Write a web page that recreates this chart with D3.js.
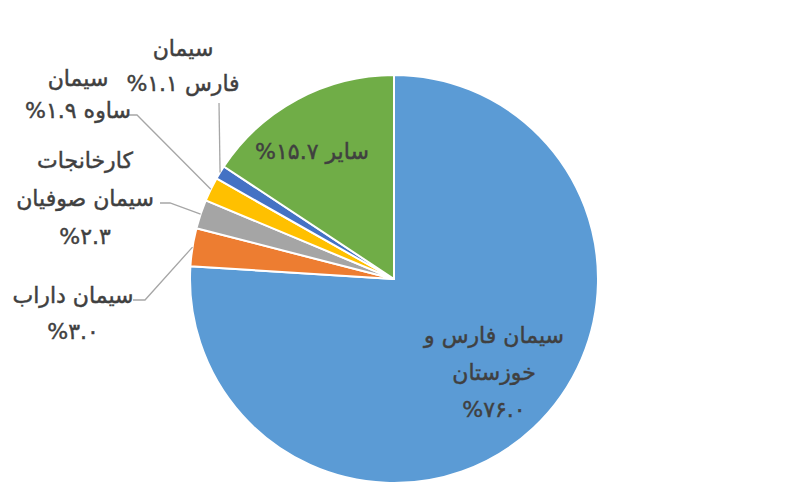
<!DOCTYPE html>
<html>
<head>
<meta charset="utf-8">
<script src="https://cdn.jsdelivr.net/npm/d3@7"></script>
<style>
  html, body { margin: 0; padding: 0; background: #ffffff; }
  svg { display: block; }
  text { font-family: "DejaVu Sans", "Noto Sans", sans-serif; fill: #404040; stroke: #404040; stroke-width: 0.45px; }
</style>
</head>
<body>
<svg id="chart" width="785" height="502"></svg>
<script>
// ---- data ----
const categories = ["سیمان فارس و خوزستان", "سیمان داراب", "کارخانجات سیمان صوفیان", "سیمان ساوه", "سیمان فارس", "سایر"];
const values = [76.0, 3.0, 2.3, 1.9, 1.1, 15.7];
// label text lines (name part), percentage token {p}
const labelLines = [
  ["سیمان فارس و", "خوزستان", "{p}"],
  ["سیمان داراب", "{p}"],
  ["کارخانجات", "سیمان صوفیان", "{p}"],
  ["سیمان", "ساوه {p}"],
  ["سیمان", "فارس {p}"],
  ["سایر {p}"]
];
const colors = ["#5B9BD5", "#ED7D31", "#A5A5A5", "#FFC000", "#4472C4", "#70AD47"];

// ---- layout ----
const cx = 394, cy = 279, R = 204;
const labelLayout = [
  { x: 494, y: 343, lh: 37, leader: null },
  { x: 73,  y: 303, lh: 36, leader: [[133, 300], [145, 300]] },
  { x: 85,  y: 168, lh: 38, leader: [[160, 203], [170, 203]] },
  { x: 78,  y: 86,  lh: 32, leader: [[128, 115], [137, 115]] },
  { x: 183, y: 56,  lh: 35, leader: [[219, 103]] },
  { x: 312, y: 159, lh: 36, leader: null }
];

const faDigits = "۰۱۲۳۴۵۶۷۸۹";
const toFa = s => s.replace(/[0-9]/g, d => faDigits[+d]);
// LTR isolate so the percent sign stays on the left of the number
const pct = v => "\u2066%" + toFa(v.toFixed(1)) + "\u2069";

const svg = d3.select("#chart");
const g = svg.append("g").attr("transform", `translate(${cx},${cy})`);

const data = categories.map((c, i) => ({ name: c, value: values[i], i }));
const pie = d3.pie().value(d => d.value).sort(null).startAngle(0).endAngle(2 * Math.PI);
const arcs = pie(data);
const arc = d3.arc().innerRadius(0).outerRadius(R);

g.selectAll("path.slice")
  .data(arcs)
  .join("path")
  .attr("class", "slice")
  .attr("d", arc)
  .attr("fill", d => colors[d.data.i])
  .attr("stroke", "#ffffff")
  .attr("stroke-width", 2)
  .attr("stroke-linejoin", "round");

// leader lines
arcs.forEach(a => {
  const L = labelLayout[a.data.i];
  if (!L.leader) return;
  const mid = (a.startAngle + a.endAngle) / 2;
  const ex = cx + R * Math.sin(mid);
  const ey = cy - R * Math.cos(mid);
  const pts = L.leader.concat([[ex, ey]]);
  svg.append("path")
    .attr("d", d3.line()(pts))
    .attr("fill", "none")
    .attr("stroke", "#A6A6A6")
    .attr("stroke-width", 1.3);
});

// labels
arcs.forEach(a => {
  const L = labelLayout[a.data.i];
  const lines = labelLines[a.data.i].map(s => s.replace("{p}", pct(a.data.value)));
  const t = svg.append("text")
    .attr("text-anchor", "middle")
    .attr("direction", "rtl")
    .style("direction", "rtl")
    .attr("font-size", 22);
  lines.forEach((ln, k) => {
    t.append("tspan")
      .attr("x", L.x)
      .attr("y", L.y + k * L.lh)
      .text(ln);
  });
});
</script>
</body>
</html>
